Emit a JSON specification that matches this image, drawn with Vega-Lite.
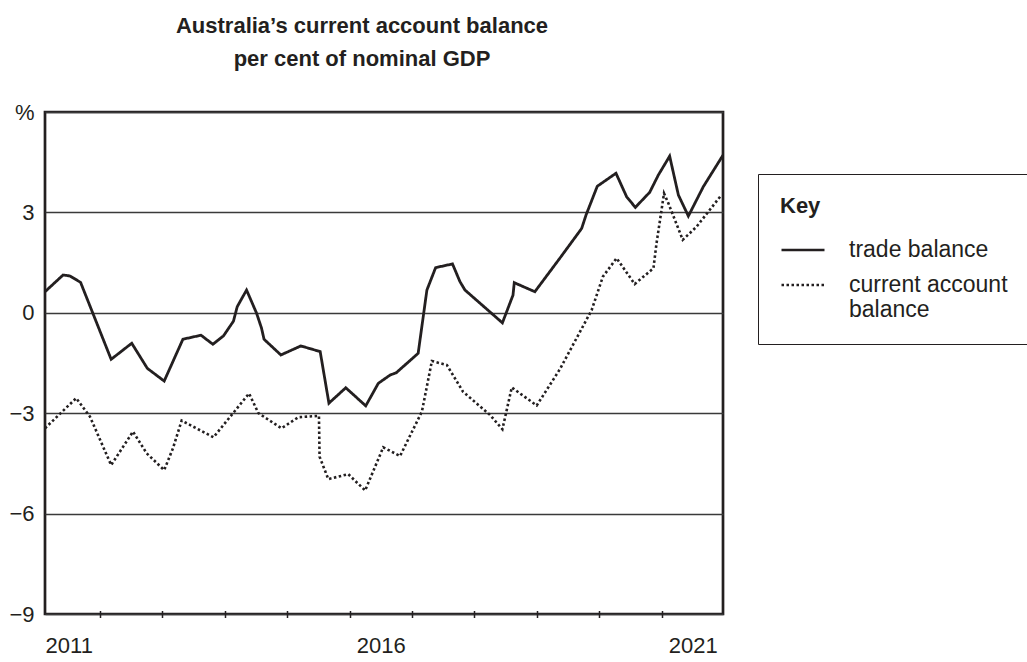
{
  "$schema": "https://vega.github.io/schema/vega-lite/v6.json",
  "autosize": {"type": "none"},
  "padding": {"left": 45, "top": 112, "right": 304, "bottom": 48},
  "width": 678,
  "height": 502,
  "background": "white",
  "title": {
    "text": ["Australia’s current account balance", "per cent of nominal GDP"],
    "font": "Liberation Sans",
    "fontSize": 22,
    "fontWeight": "bold",
    "color": "#231f20",
    "lineHeight": 33,
    "anchor": "middle",
    "frame": "group",
    "dx": -22,
    "offset": 30
  },
  "config": {
    "font": "Liberation Sans",
    "view": {"stroke": "#231f20", "strokeWidth": 2.7},
    "axis": {"labelFont": "Liberation Sans", "labelColor": "#231f20", "labelFontSize": 22}
  },
  "data": {
    "values": [
      {"date": 2011.12, "value": 0.63, "series": "trade balance"},
      {"date": 2011.41, "value": 1.13, "series": "trade balance"},
      {"date": 2011.52, "value": 1.10, "series": "trade balance"},
      {"date": 2011.69, "value": 0.91, "series": "trade balance"},
      {"date": 2012.18, "value": -1.39, "series": "trade balance"},
      {"date": 2012.51, "value": -0.91, "series": "trade balance"},
      {"date": 2012.76, "value": -1.66, "series": "trade balance"},
      {"date": 2013.03, "value": -2.04, "series": "trade balance"},
      {"date": 2013.33, "value": -0.79, "series": "trade balance"},
      {"date": 2013.62, "value": -0.67, "series": "trade balance"},
      {"date": 2013.81, "value": -0.94, "series": "trade balance"},
      {"date": 2013.98, "value": -0.69, "series": "trade balance"},
      {"date": 2014.14, "value": -0.25, "series": "trade balance"},
      {"date": 2014.20, "value": 0.18, "series": "trade balance"},
      {"date": 2014.35, "value": 0.68, "series": "trade balance"},
      {"date": 2014.51, "value": -0.01, "series": "trade balance"},
      {"date": 2014.59, "value": -0.46, "series": "trade balance"},
      {"date": 2014.63, "value": -0.79, "series": "trade balance"},
      {"date": 2014.90, "value": -1.26, "series": "trade balance"},
      {"date": 2015.22, "value": -0.99, "series": "trade balance"},
      {"date": 2015.53, "value": -1.16, "series": "trade balance"},
      {"date": 2015.67, "value": -2.70, "series": "trade balance"},
      {"date": 2015.94, "value": -2.24, "series": "trade balance"},
      {"date": 2016.26, "value": -2.78, "series": "trade balance"},
      {"date": 2016.46, "value": -2.11, "series": "trade balance"},
      {"date": 2016.65, "value": -1.86, "series": "trade balance"},
      {"date": 2016.75, "value": -1.79, "series": "trade balance"},
      {"date": 2017.10, "value": -1.21, "series": "trade balance"},
      {"date": 2017.24, "value": 0.68, "series": "trade balance"},
      {"date": 2017.38, "value": 1.35, "series": "trade balance"},
      {"date": 2017.65, "value": 1.46, "series": "trade balance"},
      {"date": 2017.77, "value": 0.93, "series": "trade balance"},
      {"date": 2017.85, "value": 0.68, "series": "trade balance"},
      {"date": 2018.45, "value": -0.30, "series": "trade balance"},
      {"date": 2018.62, "value": 0.53, "series": "trade balance"},
      {"date": 2018.64, "value": 0.90, "series": "trade balance"},
      {"date": 2018.97, "value": 0.63, "series": "trade balance"},
      {"date": 2019.37, "value": 1.63, "series": "trade balance"},
      {"date": 2019.72, "value": 2.52, "series": "trade balance"},
      {"date": 2019.79, "value": 2.92, "series": "trade balance"},
      {"date": 2019.97, "value": 3.78, "series": "trade balance"},
      {"date": 2020.27, "value": 4.17, "series": "trade balance"},
      {"date": 2020.44, "value": 3.47, "series": "trade balance"},
      {"date": 2020.58, "value": 3.15, "series": "trade balance"},
      {"date": 2020.81, "value": 3.60, "series": "trade balance"},
      {"date": 2020.95, "value": 4.12, "series": "trade balance"},
      {"date": 2021.13, "value": 4.68, "series": "trade balance"},
      {"date": 2021.27, "value": 3.52, "series": "trade balance"},
      {"date": 2021.43, "value": 2.89, "series": "trade balance"},
      {"date": 2021.67, "value": 3.77, "series": "trade balance"},
      {"date": 2021.985, "value": 4.71, "series": "trade balance"},

      {"date": 2011.12, "value": -3.45, "series": "current account balance"},
      {"date": 2011.62, "value": -2.55, "series": "current account balance"},
      {"date": 2011.84, "value": -3.10, "series": "current account balance"},
      {"date": 2012.18, "value": -4.55, "series": "current account balance"},
      {"date": 2012.53, "value": -3.55, "series": "current account balance"},
      {"date": 2012.75, "value": -4.20, "series": "current account balance"},
      {"date": 2013.03, "value": -4.70, "series": "current account balance"},
      {"date": 2013.17, "value": -4.05, "series": "current account balance"},
      {"date": 2013.31, "value": -3.22, "series": "current account balance"},
      {"date": 2013.82, "value": -3.72, "series": "current account balance"},
      {"date": 2014.39, "value": -2.41, "series": "current account balance"},
      {"date": 2014.54, "value": -3.00, "series": "current account balance"},
      {"date": 2014.91, "value": -3.45, "series": "current account balance"},
      {"date": 2015.18, "value": -3.12, "series": "current account balance"},
      {"date": 2015.51, "value": -3.08, "series": "current account balance"},
      {"date": 2015.52, "value": -4.30, "series": "current account balance"},
      {"date": 2015.66, "value": -4.97, "series": "current account balance"},
      {"date": 2015.98, "value": -4.82, "series": "current account balance"},
      {"date": 2016.25, "value": -5.31, "series": "current account balance"},
      {"date": 2016.54, "value": -4.02, "series": "current account balance"},
      {"date": 2016.81, "value": -4.28, "series": "current account balance"},
      {"date": 2017.16, "value": -2.95, "series": "current account balance"},
      {"date": 2017.32, "value": -1.44, "series": "current account balance"},
      {"date": 2017.56, "value": -1.56, "series": "current account balance"},
      {"date": 2017.82, "value": -2.36, "series": "current account balance"},
      {"date": 2018.25, "value": -3.05, "series": "current account balance"},
      {"date": 2018.45, "value": -3.48, "series": "current account balance"},
      {"date": 2018.60, "value": -2.23, "series": "current account balance"},
      {"date": 2019.00, "value": -2.77, "series": "current account balance"},
      {"date": 2019.37, "value": -1.69, "series": "current account balance"},
      {"date": 2019.88, "value": 0.08, "series": "current account balance"},
      {"date": 2020.06, "value": 1.08, "series": "current account balance"},
      {"date": 2020.28, "value": 1.63, "series": "current account balance"},
      {"date": 2020.57, "value": 0.86, "series": "current account balance"},
      {"date": 2020.87, "value": 1.33, "series": "current account balance"},
      {"date": 2020.92, "value": 2.08, "series": "current account balance"},
      {"date": 2021.04, "value": 3.57, "series": "current account balance"},
      {"date": 2021.11, "value": 3.27, "series": "current account balance"},
      {"date": 2021.34, "value": 2.18, "series": "current account balance"},
      {"date": 2021.56, "value": 2.57, "series": "current account balance"},
      {"date": 2021.96, "value": 3.52, "series": "current account balance"}
    ]
  },
  "resolve": {"axis": {"x": "independent"}},
  "layer": [
    {
      "transform": [{"filter": "datum.series == 'trade balance'"}],
      "mark": {"type": "line", "color": "#231f20", "strokeWidth": 2.8, "strokeJoin": "miter"},
      "encoding": {
        "x": {
          "field": "date", "type": "quantitative",
          "scale": {"domain": [2011.12, 2021.985], "nice": false, "zero": false},
          "axis": {
            "orient": "bottom",
            "title": null, "values": [2012, 2013, 2014, 2015, 2016, 2017, 2018, 2019, 2020, 2021],
            "labels": false, "domain": false, "grid": false,
            "ticks": true, "tickSize": 7, "offset": -3.5, "tickColor": "#231f20", "tickWidth": 1.5
          }
        },
        "y": {
          "field": "value", "type": "quantitative",
          "scale": {"domain": [-9, 6], "nice": false, "zero": false},
          "axis": {
            "title": null, "values": [-9, -6, -3, 0, 3, 6],
            "labelExpr": "datum.value == 6 ? '%' : datum.label",
            "domain": false, "ticks": false, "labelPadding": 11,
            "grid": true, "gridColor": "#3a3a3a", "gridWidth": 1.5
          }
        },
        "strokeDash": {
          "field": "series", "type": "nominal",
          "scale": {"domain": ["trade balance", "current account balance"], "range": [[1, 0], [2.5, 2.5]]},
          "legend": {
            "title": "Key",
            "orient": "none", "legendX": 713, "legendY": 62,
            "titleFont": "Liberation Sans", "titleFontSize": 22, "titleFontWeight": "bold", "titleColor": "#231f20",
            "titlePadding": 9,
            "labelFont": "Liberation Sans", "labelFontSize": 23, "labelColor": "#231f20", "labelLimit": 400,
            "labelOffset": 23,
            "labelExpr": "datum.label == 'current account balance' ? ['current account', 'balance'] : datum.label",
            "symbolType": "stroke", "symbolSize": 1849, "symbolStrokeWidth": 2.5, "symbolStrokeColor": "#231f20",
            "strokeColor": "#231f20", "padding": 22, "rowPadding": 0,
            "fillColor": "white"
          }
        }
      }
    },
    {
      "transform": [{"filter": "datum.series == 'current account balance'"}],
      "mark": {"type": "line", "color": "#231f20", "strokeWidth": 2.6, "strokeCap": "butt"},
      "encoding": {
        "x": {
          "field": "date", "type": "quantitative",
          "axis": {
            "orient": "bottom",
            "title": null, "values": [2011.5, 2016.5, 2021.5],
            "labelExpr": "floor(datum.value)",
            "domain": false, "ticks": false, "grid": false, "labelPadding": 21
          }
        },
        "y": {"field": "value", "type": "quantitative"},
        "strokeDash": {"field": "series", "type": "nominal"}
      }
    }
  ]
}
